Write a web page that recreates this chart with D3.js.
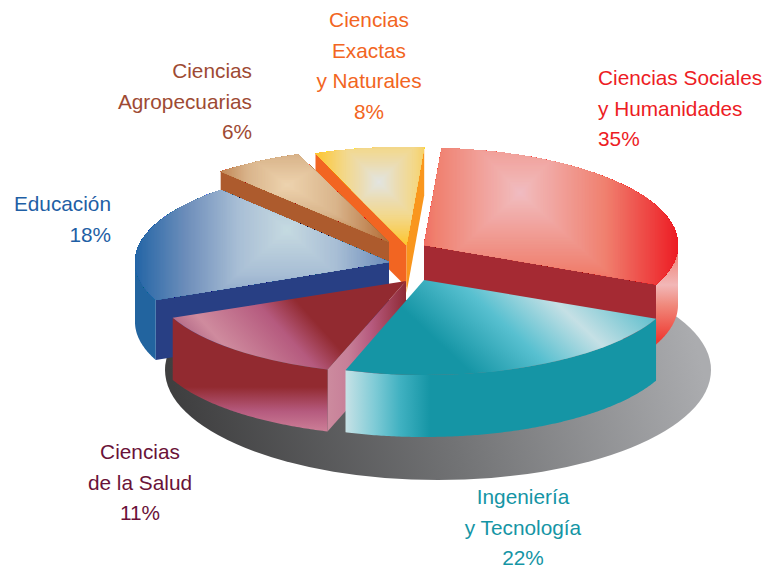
<!DOCTYPE html>
<html lang="es">
<head>
<meta charset="utf-8">
<style>html,body{margin:0;padding:0;background:#fff}svg{display:block}</style>
<script src="https://cdn.jsdelivr.net/npm/d3@7"></script>
</head>
<body>
<svg id="chart" width="766" height="568" role="img" aria-label="Distribución por área de conocimiento"></svg>
<script>
// ---------- data ----------
const categories = ["Ciencias Sociales y Humanidades","Ingeniería y Tecnología","Ciencias de la Salud","Educación","Ciencias Agropecuarias","Ciencias Exactas y Naturales"];
const percents = [35,22,11,18,6,8];
// the angular share each slice is actually drawn with (the drawing is not strictly proportional to its labels)
const drawnShares = [110,84,48.7,71.8,20.5,25];
const labelLines = [["Ciencias Sociales","y Humanidades"],["Ingeniería","y Tecnología"],["Ciencias","de la Salud"],["Educación"],["Ciencias","Agropecuarias"],["Ciencias","Exactas","y Naturales"]];

// ---------- layout and style ----------
const W = 766, H = 568, RX = 254, CX = 406, CY = 262;
const radiusY = [97,95,93,96,94,98];
const explodeX = [18,18,0,-17,-17,0.5];
const explodeY = [-17,18,19,0,-20,-17];
const depthStart = [60,62,62,60,20,42];
const depthEnd = [60,62,62,60,20,48];
const labelColors = ["#ed1c24","#1595a5","#6a1238","#1f5fa5","#9e4a33","#f26522"];
const labelAnchor = ["start","middle","middle","end","end","middle"];
const labelX = [598,523,140,111,252,369];
const labelTop = [85,504,459,211,78,27];
const LINE = 30.6;
const startFace = ["none","none","url(#roseWall)","#283f84","#ad5b2d","#f26522"];
const endFace = ["#a52a33","none","none","none","none","#f9961d"];
const rimFill = ["url(#socialRim)","url(#tealRim)","url(#saludRim)","#22649f","none","none"];
// rectangular ("square") gradients: centre, half sizes, colour stops
const rectGrad = [
 {c:[520,193],a:[85,86,90,78],t:[0,.12,1,1.85],col:["#f0bcc3","#f1b6b6","#f0806f","#ed1c24"]},
 null,null,
 {c:[287,230],a:[100,100,90,90],t:[0,.12,.5,1,1.55],col:["#c5dbe1","#bfd3de","#a8bed5","#6f8fbb","#2063a5"]},
 {c:[287,185],a:[80,100,60,60],t:[0,.12,.5,1],col:["#edd3b0","#e9cca6","#d9b48b","#b5703b"]},
 {c:[379,182],a:[64,64,64,64],t:[0,.1,.3,.55,1],col:["#e2e4e2","#e5e2d2","#ecdcb0","#f3d88a","#fdc52f"]}
];
const order = [5,4,3,0,2,1];

// ---------- scales and generators ----------
const svg = d3.select("#chart");
const defs = svg.append("defs");
const pie = d3.pie().sort(null).value(d=>d).startAngle(4*Math.PI/180).endAngle(364*Math.PI/180);
const arcs = pie(drawnShares);
const arcPath = d3.arc().innerRadius(0).outerRadius(RX);
const rim = (i,t)=>[CX+explodeX[i]+RX*Math.sin(t), CY+explodeY[i]-radiusY[i]*Math.cos(t)];
const apex = i=>[CX+explodeX[i],CY+explodeY[i]];
const line = d3.line();

function linGrad(id,x1,y1,x2,y2,stops){
  const g = defs.append("linearGradient").attr("id",id).attr("gradientUnits","userSpaceOnUse")
    .attr("x1",x1).attr("y1",y1).attr("x2",x2).attr("y2",y2);
  stops.forEach(s=>g.append("stop").attr("offset",s[0]).attr("stop-color",s[1]));
}
linGrad("shadow",190,450,690,320,[[0,"#3f3f40"],[.5,"#727375"],[1,"#abacaf"]]);
linGrad("socialRim",0,240,0,340,[[0,"#ee4a48"],[.18,"#f08a80"],[.45,"#f2b7b7"],[.65,"#f0897c"],[1,"#ef3a32"]]);
linGrad("tealRim",345,0,430,0,[[0,"#c8e2e6"],[.35,"#7fcbd6"],[.65,"#40b1c1"],[1,"#1595a5"]]);
linGrad("saludRim",0,387,0,431,[[0,"#922a30"],[.55,"#b55a7e"],[1,"#cc7e97"]]);
linGrad("roseWall",329,0,406,0,[[0,"#cc8a9e"],[.25,"#c77f98"],[.55,"#b65a7e"],[1,"#8f2a35"]]);
linGrad("tealTop",433,337,546,216,[[0,"#1595a5"],[.35,"#58c0d0"],[.66,"#c5e0e5"],[1,"#60bfcd"]]);
linGrad("saludTop",173,316,248.5,247.7,[[0,"#b86f8b"],[.18,"#cf8b9e"],[.7,"#b55a7e"],[1,"#922a30"]]);
const flatTop = ["none","url(#tealTop)","url(#saludTop)","none","none","none"];

// shadow: its upper part never shows through the gaps between the slices
defs.append("clipPath").attr("id","shadowClip").append("rect").attr("y",300).attr("width",W).attr("height",H-300);
svg.append("ellipse").attr("cx",438).attr("cy",370).attr("rx",273).attr("ry",110)
   .attr("fill","url(#shadow)").attr("clip-path","url(#shadowClip)");

// slices, back to front
order.forEach(i=>{
  const d = arcs[i], g = svg.append("g").attr("class","slice").attr("data-cat",categories[i]);
  const A = apex(i), s = rim(i,d.startAngle), e = rim(i,d.endAngle);
  const face = (p,h,fill)=>{
    g.append("path").attr("fill",fill)
     .attr("d",line([A,p,[p[0],p[1]+h],[A[0],A[1]+h]])+"Z");
  };
  if(startFace[i]!=="none") face(s,depthStart[i],startFace[i]);
  if(endFace[i]!=="none") face(e,depthEnd[i],endFace[i]);
  // outer wall: the part of the rim that faces the viewer
  const t0 = Math.max(d.startAngle,Math.PI/2), t1 = Math.min(d.endAngle,1.5*Math.PI);
  if(rimFill[i]!=="none" && t1>t0){
    const ts = d3.range(t0,t1,0.01).concat([t1]);
    const area = d3.area().x(t=>rim(i,t)[0]).y0(t=>rim(i,t)[1]).y1(t=>rim(i,t)[1]+depthStart[i]);
    g.append("path").attr("fill",rimFill[i]).attr("d",area(ts));
  }
  // top face, always painted through a clip of the arc so gradients stay in page space
  const tf = `translate(${A[0]},${A[1]}) scale(1,${radiusY[i]/RX})`;
  const id = "clip"+i;
  defs.append("clipPath").attr("id",id).append("path").attr("transform",tf).attr("d",arcPath(d));
  const tg = g.append("g").attr("clip-path",`url(#${id})`);
  const r = rectGrad[i];
  if(r){
    const color = d3.scaleLinear().domain(r.t).range(r.col).clamp(true);
    const steps = d3.range(3,0,-0.012);
    tg.selectAll("rect").data(steps).join("rect")
      .attr("x",t=>r.c[0]-t*r.a[0]).attr("y",t=>r.c[1]-t*r.a[2])
      .attr("width",t=>t*(r.a[0]+r.a[1])).attr("height",t=>t*(r.a[2]+r.a[3]))
      .attr("fill",t=>color(t));
  } else {
    tg.append("rect").attr("width",W).attr("height",H).attr("fill",flatTop[i]);
  }
});

// labels
categories.forEach((c,i)=>{
  const lines = labelLines[i].concat([percents[i]+"%"]);
  const t = svg.append("text").attr("font-family","'Liberation Sans',Arial,sans-serif").attr("font-size",20.8)
    .attr("fill",labelColors[i]).attr("text-anchor",labelAnchor[i]);
  lines.forEach((l,j)=>t.append("tspan").attr("x",labelX[i]).attr("y",labelTop[i]+j*LINE).text(l));
});
</script>
</body>
</html>
